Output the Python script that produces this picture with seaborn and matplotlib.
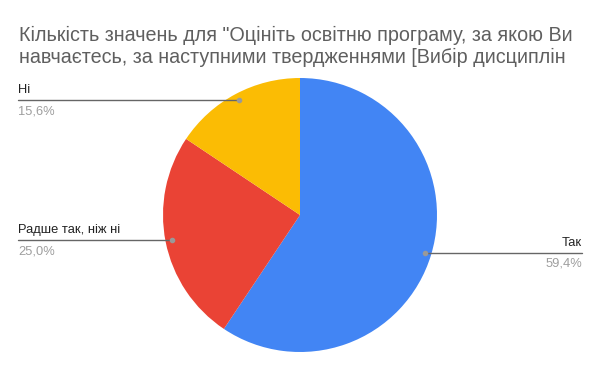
import numpy as np
import matplotlib
matplotlib.use("Agg")
import matplotlib.pyplot as plt
import seaborn as sns

sns.set_theme(style="white")
plt.rcParams['font.family'] = ['Liberation Sans', 'DejaVu Sans']

categories = ["Так", "Радше так, ніж ні", "Ні"]
counts = [19, 8, 5]
pct_labels = ["59,4%", "25,0%", "15,6%"]
colors = ["#4285F4", "#EA4335", "#FBBC04"]
title_lines = ["Кількість значень для \"Оцініть освітню програму, за якою Ви",
               "навчаєтесь, за наступними твердженнями [Вибір дисциплін"]

W, H = 600, 371
fig = plt.figure(figsize=(W / 100, H / 100), dpi=100)
fig.patch.set_facecolor("white")

cx, cy, r = 300, 215, 137
ax = fig.add_axes([(cx - r) / W, (H - cy - r) / H, 2 * r / W, 2 * r / H])
wedges, _ = ax.pie(counts, colors=colors, startangle=90, counterclock=False,
                   radius=1, wedgeprops=dict(linewidth=0))
ax.set_xlim(-1, 1)
ax.set_ylim(-1, 1)
ax.set_aspect("equal")
ax.axis("off")

left_x = (18 - cx) / r
right_x = (582 - cx) / r
for w, name, pct in zip(wedges, categories, pct_labels):
    ang = np.deg2rad((w.theta1 + w.theta2) / 2)
    dx, dy = 0.95 * np.cos(ang), 0.95 * np.sin(ang)
    if dx >= 0:
        ex, ha = right_x, "right"
    else:
        ex, ha = left_x, "left"
    ax.plot([dx, ex], [dy, dy], color="#666666", lw=1, clip_on=False, zorder=3)
    ax.plot([dx], [dy], "o", color="#999999", ms=3, clip_on=False, zorder=4)
    ax.text(ex, dy + 0.03, name, ha=ha, va="bottom", fontsize=9.3,
            color="#222222", clip_on=False)
    ax.text(ex, dy - 0.035, pct, ha=ha, va="top", fontsize=9.3,
            color="#9e9e9e", clip_on=False)

for i, line in enumerate(title_lines):
    fig.text(19 / W, 1 - (41 + 22 * i) / H, line, ha="left", va="baseline",
             fontsize=14.2, color="#5f5f5f")

fig.savefig("out.png", dpi=100, facecolor="white")
